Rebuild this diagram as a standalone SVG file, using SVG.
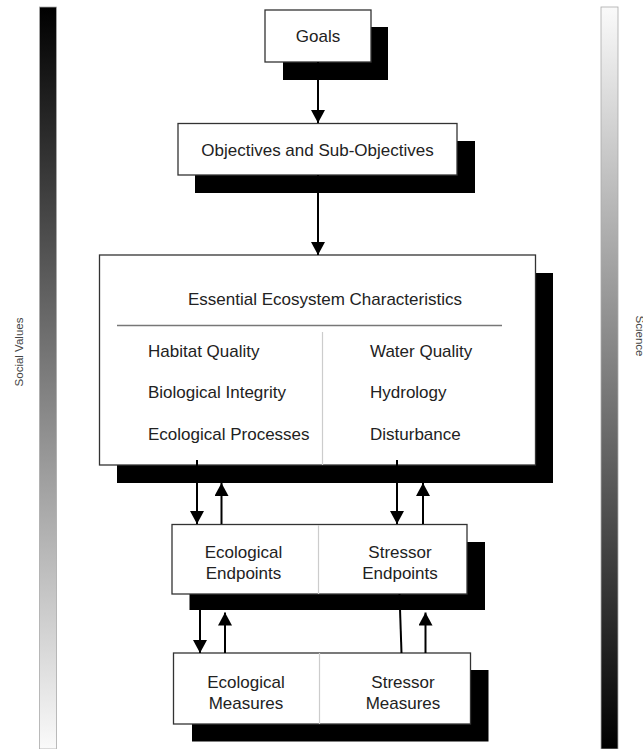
<svg xmlns="http://www.w3.org/2000/svg" width="643" height="749" viewBox="0 0 643 749">
  <defs>
    <linearGradient id="darkTop" x1="0" y1="0" x2="0" y2="1">
      <stop offset="0" stop-color="#000"/>
      <stop offset="1" stop-color="#fafafa"/>
    </linearGradient>
    <linearGradient id="lightTop" x1="0" y1="0" x2="0" y2="1">
      <stop offset="0" stop-color="#fafafa"/>
      <stop offset="1" stop-color="#000"/>
    </linearGradient>
    <marker id="head" viewBox="0 0 13 14" refX="13" refY="7" markerWidth="13" markerHeight="14" markerUnits="userSpaceOnUse" orient="auto">
      <path d="M0,0 L13,7 L0,14 Z" fill="#000"/>
    </marker>
    <style>
      .shadow { fill: #000; }
      .box { fill: #fff; stroke: #333; stroke-width: 1.3; }
      .txt { font-family: "Liberation Sans", Arial, sans-serif; font-size: 17px; fill: #222; }
      .side { font-family: "Liberation Sans", Arial, sans-serif; font-size: 11.5px; fill: #444; }
      .div { stroke: #ccc; stroke-width: 1.2; }
      .edge { stroke: #000; stroke-width: 2; fill: none; }
      .bar { stroke: #aaa; stroke-width: 0.8; }
    </style>
  </defs>

  <!-- scale bars on either side -->
  <g id="social-values">
    <rect class="bar" x="39.5" y="7" width="17" height="742" fill="url(#darkTop)"/>
    <text class="side" transform="translate(23,352) rotate(-90)" text-anchor="middle">Social Values</text>
  </g>
  <g id="science">
    <rect class="bar" x="601" y="7" width="17" height="742" fill="url(#lightTop)"/>
    <text class="side" transform="translate(636,336) rotate(90)" text-anchor="middle">Science</text>
  </g>

  <g id="goals">
    <rect class="shadow" x="283" y="27" width="105" height="53"/>
    <rect class="box" x="265" y="10" width="106" height="52"/>
    <text class="txt" x="318" y="42" text-anchor="middle">Goals</text>
  </g>

  <g id="objectives">
    <rect class="shadow" x="195" y="141" width="280" height="52"/>
    <rect class="box" x="178" y="123.5" width="279" height="51.5"/>
    <text class="txt" x="317.5" y="156" text-anchor="middle">Objectives and Sub-Objectives</text>
  </g>

  <g id="essential-characteristics">
    <rect class="shadow" x="117" y="273" width="436" height="210"/>
    <rect class="box" x="99.5" y="255" width="436" height="210"/>
    <text class="txt" x="325" y="305" text-anchor="middle">Essential Ecosystem Characteristics</text>
    <line x1="117" y1="325.5" x2="502" y2="325.5" stroke="#777" stroke-width="1.3"/>
    <line class="div" x1="322.5" y1="332" x2="322.5" y2="465"/>
    <text class="txt" x="148" y="356.5">Habitat Quality</text>
    <text class="txt" x="148" y="398">Biological Integrity</text>
    <text class="txt" x="148" y="440">Ecological Processes</text>
    <text class="txt" x="370" y="356.5">Water Quality</text>
    <text class="txt" x="370" y="398">Hydrology</text>
    <text class="txt" x="370" y="440">Disturbance</text>
  </g>

  <g id="endpoints">
    <rect class="shadow" x="189.5" y="542" width="295.5" height="68"/>
    <rect class="box" x="172" y="524.5" width="295" height="69.5"/>
    <line class="div" x1="318.5" y1="525" x2="318.5" y2="594"/>
    <text class="txt" x="243.5" y="558" text-anchor="middle">Ecological</text>
    <text class="txt" x="243.5" y="579" text-anchor="middle">Endpoints</text>
    <text class="txt" x="400" y="558" text-anchor="middle">Stressor</text>
    <text class="txt" x="400" y="579" text-anchor="middle">Endpoints</text>
  </g>

  <g id="measures">
    <rect class="shadow" x="192" y="670" width="296.5" height="71.5"/>
    <rect class="box" x="173.5" y="653" width="297" height="71"/>
    <line class="div" x1="319.5" y1="653" x2="319.5" y2="724"/>
    <text class="txt" x="246" y="688" text-anchor="middle">Ecological</text>
    <text class="txt" x="246" y="708.5" text-anchor="middle">Measures</text>
    <text class="txt" x="403" y="688" text-anchor="middle">Stressor</text>
    <text class="txt" x="403" y="708.5" text-anchor="middle">Measures</text>
  </g>

  <g id="connectors">
    <line class="edge" x1="318" y1="62" x2="318" y2="123" marker-end="url(#head)"/>
    <line class="edge" x1="318" y1="175" x2="318" y2="255" marker-end="url(#head)"/>
    <!-- characteristics to/from endpoints -->
    <line class="edge" x1="197" y1="460" x2="197" y2="524" marker-end="url(#head)"/>
    <line class="edge" x1="221.5" y1="524" x2="221.5" y2="483" marker-end="url(#head)"/>
    <line class="edge" x1="397" y1="460" x2="397" y2="524" marker-end="url(#head)"/>
    <line class="edge" x1="423" y1="524" x2="423" y2="483" marker-end="url(#head)"/>
    <!-- endpoints to/from measures -->
    <line class="edge" x1="200" y1="610" x2="200" y2="653" marker-end="url(#head)"/>
    <line class="edge" x1="225" y1="653" x2="225" y2="612.5" marker-end="url(#head)"/>
    <line class="edge" x1="399.5" y1="594" x2="401.5" y2="653"/>
    <line class="edge" x1="425.5" y1="653" x2="425.5" y2="612.5" marker-end="url(#head)"/>
  </g>
</svg>
